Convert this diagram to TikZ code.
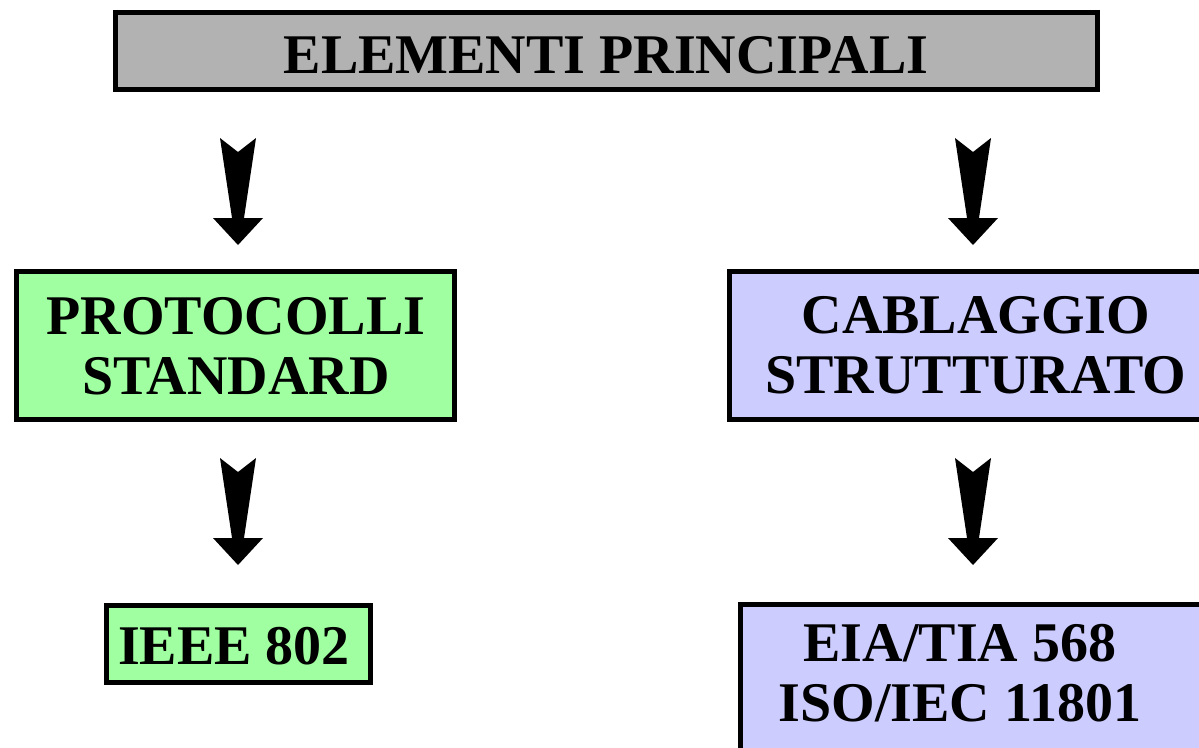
\documentclass[tikz,border=0pt]{standalone}
\usepackage{fontspec}
\setmainfont{Liberation Serif}
\definecolor{boxgray}{HTML}{B2B2B2}
\definecolor{boxgreen}{HTML}{A0FFA0}
\definecolor{boxblue}{HTML}{CCCCFF}
\tikzset{
  box/.style={draw=black, line width=5pt, rectangle, inner sep=0pt, outer sep=0pt},
  lbl/.style={inner sep=0pt, align=center, font=\fontsize{56}{60}\selectfont\bfseries},
  blockarrow/.pic={\fill[black] (-18,0) -- (0,14) -- (18,0) -- (6,80) -- (25,80) -- (0,107) -- (-25,80) -- (-6,80) -- cycle;}
}
\begin{document}
\begin{tikzpicture}[x=1pt,y=-1pt]
\useasboundingbox (0,0) rectangle (1199,747);
\clip (0,0) rectangle (1199,747);
% boxes
\node[box, fill=boxgray, minimum width=982pt, minimum height=77pt] (top) at (606.5,51) {};
\node[box, fill=boxgreen, minimum width=438pt, minimum height=148pt] (prot) at (235.5,345.5) {};
\node[box, fill=boxblue, minimum width=494pt, minimum height=148pt] (cab) at (976.5,345.5) {};
\node[box, fill=boxgreen, minimum width=264pt, minimum height=77pt] (ieee) at (238.5,644) {};
\node[box, fill=boxblue, minimum width=500pt, minimum height=176pt] (eia) at (990.5,692.5) {};
% labels
\node[lbl, anchor=base] (ltop) at (606,73) {ELEMENTI PRINCIPALI};
\node[lbl] (lprot) at (236,346) {PROTOCOLLI\\STANDARD};
\node[lbl] (lcab) at (976,345) {CABLAGGIO\\STRUTTURATO};
\node[lbl, anchor=base] (lieee) at (234,664) {IEEE 802};
\node[lbl] (leia) at (960,673) {EIA/TIA 568\\ISO/IEC 11801};
% arrows
\coordinate (a1) at (238,138);
\coordinate (a2) at (973,138);
\coordinate (a3) at (238,458);
\coordinate (a4) at (973,458);
\pic at (a1) {blockarrow};
\pic at (a2) {blockarrow};
\pic at (a3) {blockarrow};
\pic at (a4) {blockarrow};
\end{tikzpicture}
\end{document}
